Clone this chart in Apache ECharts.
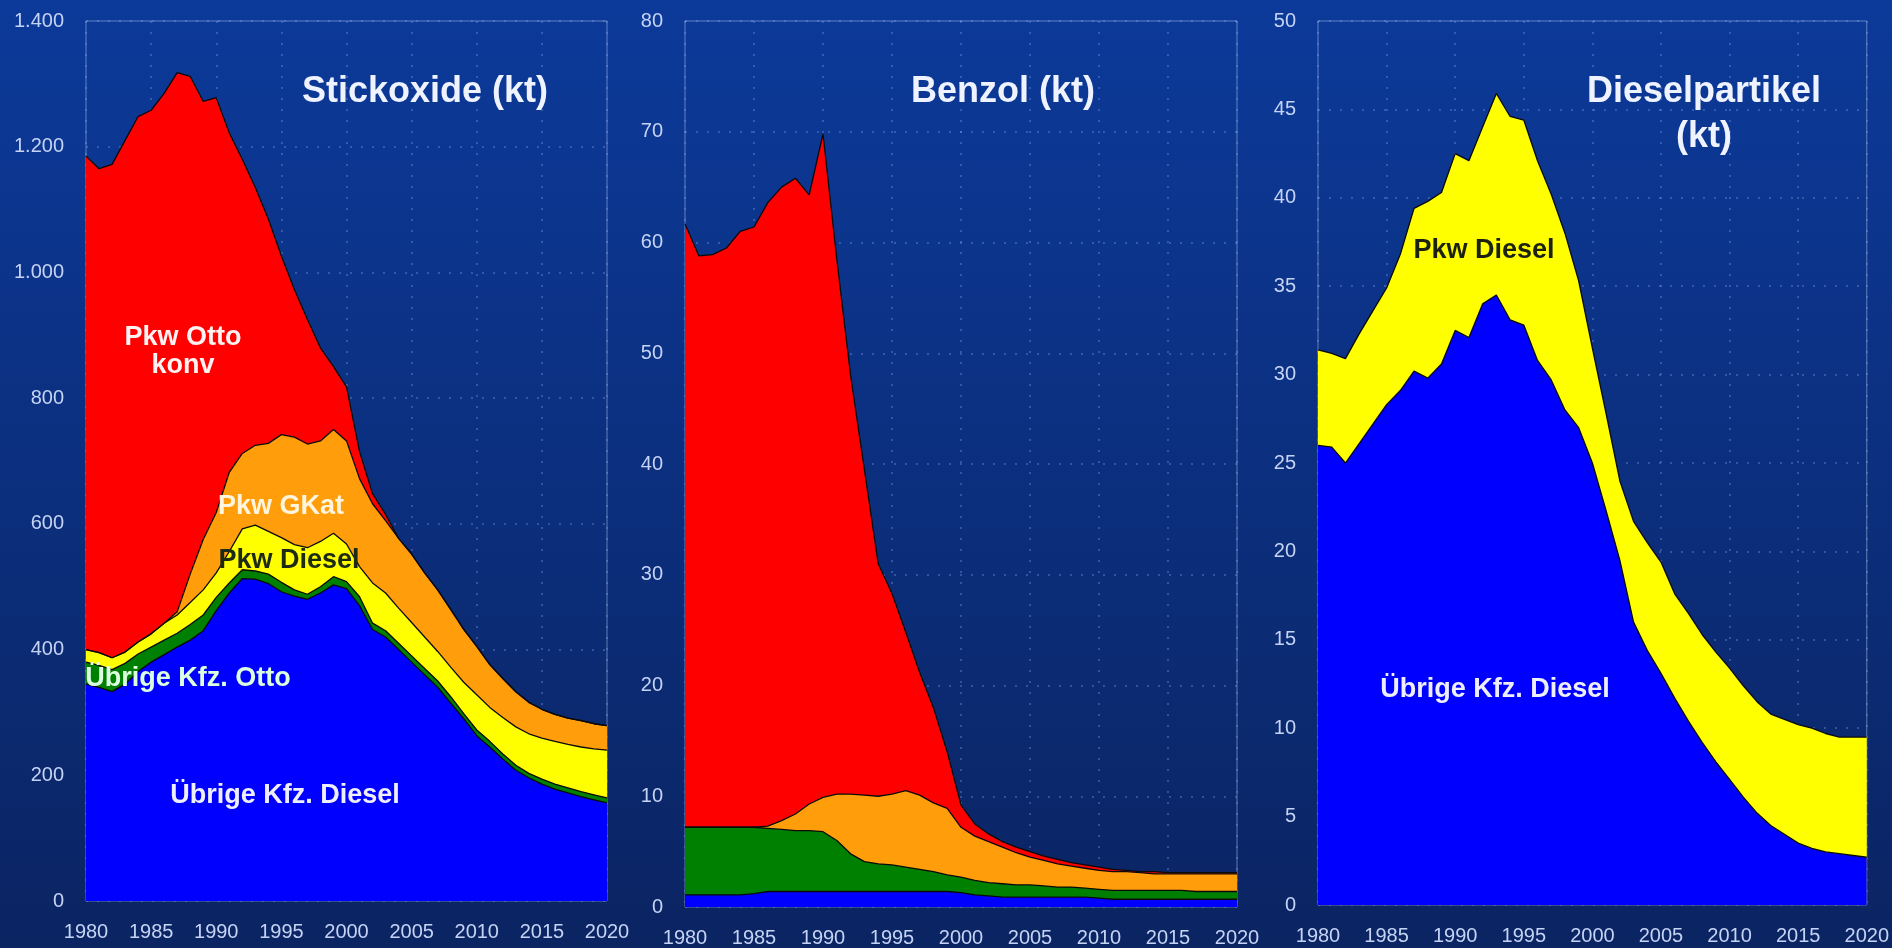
<!DOCTYPE html>
<html><head><meta charset="utf-8">
<script src="https://cdn.jsdelivr.net/npm/echarts@6/dist/echarts.min.js"></script>
<style>html,body{margin:0;padding:0;background:#0b2a78;}#c{width:1892px;height:948px;}</style>
</head><body><div id="c"></div>
<script>
// Years (categories) and axis tick labels
const years = ['1980','1981','1982','1983','1984','1985','1986','1987','1988','1989',
  '1990','1991','1992','1993','1994','1995','1996','1997','1998','1999',
  '2000','2001','2002','2003','2004','2005','2006','2007','2008','2009',
  '2010','2011','2012','2013','2014','2015','2016','2017','2018','2019','2020'];

// Each array = upper boundary of the band (cumulative level).
// Stickoxide (kt)
const noxPkwOttoKonvTop = [1185,1165,1172,1210,1248,1258,1285,1318,1312,1272,1278,1222,1180,1135,1085,1026,973,925,880,850,818,715,648,615,577,552,522,495,464,432,405,376,354,333,316,305,297,291,287,282,279];
const noxPkwGKatTop     = [400,395,387,396,412,425,442,460,520,575,618,682,712,725,728,742,738,727,732,750,732,672,632,605,577,552,522,495,464,432,405,376,354,333,316,305,297,291,287,282,279];
const noxPkwDieselTop   = [400,395,387,396,412,425,442,455,475,495,522,556,592,598,588,578,567,562,572,585,568,532,506,490,466,443,420,397,372,348,328,308,292,277,266,259,254,249,245,242,240];
const noxUebrigOttoTop  = [380,375,368,378,393,404,415,426,440,455,483,506,527,525,520,507,495,488,500,516,508,484,442,430,410,390,370,350,325,298,272,254,234,216,203,194,186,180,174,169,164];
const noxUebrigDieselTop= [345,340,333,345,365,380,392,404,415,430,462,490,513,512,505,492,485,480,490,503,497,470,432,420,400,380,360,340,315,290,263,245,226,208,196,186,178,172,166,161,156];

// Benzol (kt)
const bzPkwOttoKonvTop = [61.7,58.8,58.9,59.5,61.0,61.4,63.6,65.0,65.8,64.3,69.8,58.5,48.0,39.5,31.0,28.3,24.8,21.2,18.0,14.0,9.2,7.5,6.6,5.9,5.4,5.0,4.6,4.3,4.0,3.8,3.6,3.4,3.3,3.2,3.2,3.1,3.1,3.1,3.1,3.1,3.1];
const bzPkwGKatTop     = [7.2,7.2,7.2,7.2,7.2,7.2,7.3,7.8,8.4,9.3,9.9,10.2,10.2,10.1,10.0,10.2,10.5,10.1,9.4,8.9,7.2,6.4,5.9,5.4,4.9,4.5,4.2,3.9,3.7,3.5,3.3,3.2,3.2,3.1,3.0,3.0,3.0,3.0,3.0,3.0,3.0];
const bzUebrigOttoTop  = [7.2,7.2,7.2,7.2,7.2,7.2,7.1,7.0,6.9,6.9,6.8,6.0,4.8,4.1,3.9,3.8,3.6,3.4,3.2,2.9,2.7,2.4,2.2,2.1,2.0,2.0,1.9,1.8,1.8,1.7,1.6,1.5,1.5,1.5,1.5,1.5,1.5,1.4,1.4,1.4,1.4];
const bzUebrigDieselTop= [1.1,1.1,1.1,1.1,1.1,1.2,1.4,1.4,1.4,1.4,1.4,1.4,1.4,1.4,1.4,1.4,1.4,1.4,1.4,1.4,1.3,1.1,1.0,0.9,0.9,0.9,0.9,0.9,0.9,0.9,0.8,0.7,0.7,0.7,0.7,0.7,0.7,0.7,0.7,0.7,0.7];

// Dieselpartikel (kt)
const dpPkwDieselTop   = [31.4,31.2,30.9,32.3,33.6,34.9,36.8,39.4,39.8,40.3,42.5,42.1,44.0,45.9,44.6,44.4,42.1,40.2,38.0,35.3,31.5,27.8,24.0,21.7,20.5,19.4,17.6,16.5,15.3,14.3,13.4,12.4,11.5,10.8,10.5,10.2,10.0,9.7,9.5,9.5,9.5];
const dpUebrigDieselTop= [26.0,25.9,25.0,26.1,27.2,28.3,29.1,30.2,29.8,30.6,32.5,32.1,34.0,34.5,33.1,32.8,30.8,29.7,28.0,27.0,25.0,22.3,19.5,16.0,14.4,13.1,11.7,10.4,9.2,8.1,7.1,6.1,5.2,4.5,4.0,3.5,3.2,3.0,2.9,2.8,2.7];

const noxTicks = {min:0, max:1400, interval:200};
const bzTicks  = {min:0, max:80, interval:10};
const dpTicks  = {min:0, max:50, interval:5};

const C = {red:'#ff0000', orange:'#ff9d0a', yellow:'#ffff00', green:'#008000', blue:'#0000ff'};
const FONT = '"Liberation Sans", Arial, sans-serif';
const labelColor = '#c5d3f5';

const chart = echarts.init(document.getElementById('c'), null, {renderer:'canvas'});

const grids = [
  {left:86, top:21, width:521, height:880},
  {left:685, top:21, width:552, height:886},
  {left:1318, top:21, width:551, height:884}
].map(g => Object.assign(g, {show:true, borderColor:'rgba(170,190,235,0.55)', borderWidth:1, backgroundColor:'transparent'}));

function xAx(i){
  return {type:'category', gridIndex:i, data:years, boundaryGap:false,
    axisLine:{show:false}, axisTick:{show:false},
    axisLabel:{interval:4, color:labelColor, fontSize:20, fontFamily:FONT, margin:21, showMaxLabel:true, showMinLabel:true},
    splitLine:{show:true, interval:4, lineStyle:{color:'rgba(130,165,235,0.45)', width:1.5, type:[2,9]}}};
}
function yAx(i, t, fmt){
  return {type:'value', gridIndex:i, min:t.min, max:t.max, interval:t.interval,
    axisLine:{show:false}, axisTick:{show:false},
    axisLabel:{color:labelColor, fontSize:20, fontFamily:FONT, margin:22, formatter:fmt},
    splitLine:{show:true, lineStyle:{color:'rgba(130,165,235,0.45)', width:1.5, type:[2,9]}}};
}
const deFmt = v => v >= 1000 ? Math.floor(v/1000) + '.' + String(v%1000).padStart(3,'0') : String(v);

function band(name, data, color, i){
  return {name, type:'line', xAxisIndex:i, yAxisIndex:i, data, showSymbol:false, symbol:'none',
    lineStyle:{color:'#0a0a0a', width:1.3}, areaStyle:{color, opacity:1}, silent:true, animation:false};
}

const series = [
  band('Pkw Otto konv', noxPkwOttoKonvTop, C.red, 0),
  band('Pkw GKat', noxPkwGKatTop, C.orange, 0),
  band('Pkw Diesel', noxPkwDieselTop, C.yellow, 0),
  band('Übrige Kfz. Otto', noxUebrigOttoTop, C.green, 0),
  band('Übrige Kfz. Diesel', noxUebrigDieselTop, C.blue, 0),
  band('Pkw Otto konv', bzPkwOttoKonvTop, C.red, 1),
  band('Pkw GKat', bzPkwGKatTop, C.orange, 1),
  band('Übrige Kfz. Otto', bzUebrigOttoTop, C.green, 1),
  band('Übrige Kfz. Diesel', bzUebrigDieselTop, C.blue, 1),
  band('Pkw Diesel', dpPkwDieselTop, C.yellow, 2),
  band('Übrige Kfz. Diesel', dpUebrigDieselTop, C.blue, 2)
];

function txt(x, y, text, size, color){
  return {type:'text', x, y, z:100, silent:true,
    style:{text, fill:color, font:'bold '+size+'px '+FONT, align:'center', verticalAlign:'middle'}};
}

chart.setOption({
  backgroundColor: new echarts.graphic.LinearGradient(0,0,0,1,[{offset:0,color:'#0c3a9a'},{offset:1,color:'#0b2462'}]),
  animation:false,
  grid: grids,
  xAxis:[xAx(0), xAx(1), xAx(2)],
  yAxis:[yAx(0, noxTicks, deFmt), yAx(1, bzTicks), yAx(2, dpTicks)],
  series,
  graphic:[
    txt(425, 92, 'Stickoxide (kt)', 36, '#eef3ff'),
    txt(1003, 92, 'Benzol (kt)', 36, '#eef3ff'),
    txt(1704, 92, 'Dieselpartikel', 36, '#eef3ff'),
    txt(1704, 137, '(kt)', 36, '#eef3ff'),
    txt(183, 338, 'Pkw Otto', 27, '#fff2f2'),
    txt(183, 366, 'konv', 27, '#fff2f2'),
    txt(281, 507, 'Pkw GKat', 27, '#fff4dc'),
    txt(289, 561, 'Pkw Diesel', 27, '#1d2b12'),
    txt(188, 679, 'Übrige Kfz. Otto', 27, '#dcffe0'),
    txt(285, 796, 'Übrige Kfz. Diesel', 27, '#eeeeff'),
    txt(1484, 251, 'Pkw Diesel', 27, '#1d2210'),
    txt(1495, 690, 'Übrige Kfz. Diesel', 27, '#eeeeff')
  ]
});
</script></body></html>
